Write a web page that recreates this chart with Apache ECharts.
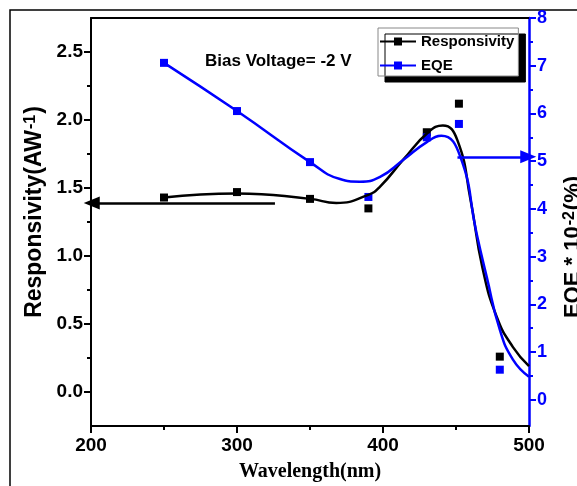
<!DOCTYPE html>
<html>
<head>
<meta charset="utf-8">
<script src="https://cdn.jsdelivr.net/npm/echarts@6/dist/echarts.min.js"></script>
<style>
html, body { margin: 0; padding: 0; background: #fff; }
#chart { width: 577px; height: 486px; }
</style>
</head>
<body>
<div id="chart"></div>
<script>
// measured points
var wavelengths = [250, 300, 350, 390, 430, 452, 480];
var responsivity = [1.43, 1.47, 1.42, 1.35, 1.91, 2.12, 0.26];
var eqe = [7.06, 6.05, 4.98, 4.25, 5.5, 5.78, 0.63];

// fitted curves
var respCurveX = [250, 300, 350, 368, 390, 398, 414, 431, 441, 451, 460, 468, 478, 489, 500];
var respCurveY = [1.43, 1.46, 1.42, 1.39, 1.45, 1.51, 1.71, 1.91, 1.96, 1.85, 1.41, 0.92, 0.55, 0.33, 0.19];
var eqeCurveX = [250, 300, 350, 370, 384, 398, 414, 430, 440, 453, 464, 471, 480, 489, 500];
var eqeCurveY = [7.06, 6.05, 4.98, 4.63, 4.57, 4.67, 5.03, 5.40, 5.53, 5.09, 3.5, 2.58, 1.47, 0.84, 0.48];

// arrows
var respArrow = [[326, 1.39], [200.5, 1.39]];
var eqeArrow = [[451, 5.09], [499.5, 5.09]];

// ticks
var xMinor = [250, 350, 450];
var leftTicks = [0, 0.5, 1, 1.5, 2, 2.5];
var leftMinor = [0.25, 0.75, 1.25, 1.75, 2.25];
var rightTicks = [0, 1, 2, 3, 4, 5, 6, 7, 8];
var rightMinor = [0.5, 1.5, 2.5, 3.5, 4.5, 5.5, 6.5, 7.5];

var SANS = 'Liberation Sans';
var BLUE = '#0000ff';

function zip(xs, ys) {
	var out = [];
	for (var i = 0; i < xs.length; i++) out.push([xs[i], ys[i]]);
	return out;
}

function arrowLine(pts, color) {
	return {
		silent: true,
		symbol: ['none', 'triangle'],
		symbolSize: [13, 16],
		label: { show: false },
		lineStyle: { color: color, width: 2.5, type: 'solid' },
		data: [[{ coord: pts[0] }, { coord: pts[1] }]]
	};
}

var chart = echarts.init(document.getElementById('chart'));
var option = {
	animation: false,
	title: {
		text: 'Bias Voltage= -2 V',
		left: 205, top: 53, padding: 0,
		textStyle: { fontFamily: SANS, fontSize: 17, fontWeight: 'bold', color: '#000' }
	},
	legend: {
		data: ['Responsivity', 'EQE'],
		orient: 'vertical',
		left: 378, top: 28,
		padding: [6, 4, 3, 1],
		itemGap: 9,
		itemWidth: 36,
		itemHeight: 10,
		selectedMode: false,
		backgroundColor: '#fff',
		borderColor: '#888',
		borderWidth: 1,
		shadowColor: '#000',
		shadowOffsetX: 7,
		shadowOffsetY: 6,
		shadowBlur: 0,
		textStyle: { fontFamily: SANS, fontSize: 15, fontWeight: 'bold', color: '#000' }
	},
	graphic: [{
		type: 'rect', silent: true,
		shape: { x: 10, y: 10, width: 700, height: 600 },
		style: { fill: 'none', stroke: '#000', lineWidth: 1.5 }
	}],
	grid: { left: 91, right: 48, top: 18, bottom: 60, outerBoundsMode: 'none', containLabel: false },
	xAxis: [{
		type: 'value', min: 200, max: 500, interval: 100, position: 'bottom',
		axisLine: { onZero: false, lineStyle: { color: '#000', width: 2 } },
		axisTick: { length: 7, lineStyle: { color: '#000', width: 2 } },
		axisLabel: { fontFamily: SANS, fontSize: 19, fontWeight: 'bold', color: '#000', margin: 10 },
		splitLine: { show: false },
		name: 'Wavelength(nm)', nameLocation: 'middle', nameGap: 36,
		nameTextStyle: { fontFamily: 'Liberation Serif', fontSize: 20, fontWeight: 'bold', color: '#000' }
	}, {
		type: 'value', min: 200, max: 500, position: 'bottom', offset: 0,
		axisLine: { show: false, onZero: false },
		axisTick: { customValues: xMinor, length: 4, lineStyle: { color: '#000', width: 2 } },
		axisLabel: { show: false },
		splitLine: { show: false }
	}, {
		type: 'value', min: 200, max: 500, position: 'top',
		axisLine: { onZero: false, lineStyle: { color: '#000', width: 2 } },
		axisTick: { show: false },
		axisLabel: { show: false },
		splitLine: { show: false }
	}],
	yAxis: [{
		type: 'value', min: -0.25, max: 2.75, position: 'left',
		axisLine: { onZero: false, lineStyle: { color: '#000', width: 2 } },
		axisTick: { customValues: leftTicks, length: 7, lineStyle: { color: '#000', width: 2 } },
		axisLabel: {
			customValues: leftTicks, margin: 8,
			fontFamily: SANS, fontSize: 19, fontWeight: 'bold', color: '#000',
			formatter: function (v) { return v.toFixed(1); }
		},
		splitLine: { show: false },
		name: 'Responsivity(AW{sup|-1})', nameLocation: 'middle', nameGap: 41,
		nameTextStyle: {
			fontFamily: SANS, fontSize: 23, fontWeight: 'bold', color: '#000',
			padding: [0, 0, 0, 20],
			rich: { sup: { fontFamily: SANS, fontSize: 16, fontWeight: 'bold', color: '#000', verticalAlign: 'top', padding: [0, 1, 0, 1] } }
		}
	}, {
		type: 'value', min: -0.55, max: 8, position: 'right',
		axisLine: { onZero: false, lineStyle: { color: BLUE, width: 2.5 } },
		axisTick: { customValues: rightTicks, length: 7, lineStyle: { color: BLUE, width: 2 } },
		axisLabel: { customValues: rightTicks, margin: 8, fontFamily: SANS, fontSize: 18, fontWeight: 'bold', color: BLUE },
		splitLine: { show: false },
		name: 'EQE * 10{sup|-2}(%)', nameLocation: 'middle', nameGap: 33,
		nameTextStyle: {
			fontFamily: SANS, fontSize: 22, fontWeight: 'bold', color: '#000',
			padding: [0, 50, 0, 0],
			rich: { sup: { fontFamily: SANS, fontSize: 16, fontWeight: 'bold', color: '#000', verticalAlign: 'top', padding: [0, 1, 0, 1] } }
		}
	}, {
		type: 'value', min: -0.25, max: 2.75, position: 'left', offset: 0,
		axisLine: { show: false, onZero: false },
		axisTick: { customValues: leftMinor, length: 4, lineStyle: { color: '#000', width: 2 } },
		axisLabel: { show: false },
		splitLine: { show: false }
	}, {
		type: 'value', min: -0.55, max: 8, position: 'right', offset: 0,
		axisLine: { show: false, onZero: false },
		axisTick: { customValues: rightMinor, length: 4, lineStyle: { color: BLUE, width: 2 } },
		axisLabel: { show: false },
		splitLine: { show: false }
	}],
	series: [{
		name: 'Responsivity', type: 'line', yAxisIndex: 0,
		data: zip(respCurveX, respCurveY),
		smooth: true, showSymbol: false, symbol: 'rect', symbolSize: 8,
		lineStyle: { color: '#000', width: 2.5 },
		itemStyle: { color: '#000' },
		markLine: arrowLine(respArrow, '#000')
	}, {
		name: 'EQE', type: 'line', yAxisIndex: 1,
		data: zip(eqeCurveX, eqeCurveY),
		smooth: true, showSymbol: false, symbol: 'rect', symbolSize: 8,
		lineStyle: { color: BLUE, width: 2.5 },
		itemStyle: { color: BLUE },
		markLine: arrowLine(eqeArrow, BLUE)
	}, {
		name: 'resp_pts', type: 'scatter', yAxisIndex: 0,
		data: zip(wavelengths, responsivity),
		symbol: 'rect', symbolSize: 8,
		itemStyle: { color: '#000', opacity: 1 }
	}, {
		name: 'eqe_pts', type: 'scatter', yAxisIndex: 1,
		data: zip(wavelengths, eqe),
		symbol: 'rect', symbolSize: 8,
		itemStyle: { color: BLUE, opacity: 1 }
	}]
};
chart.setOption(option);
</script>
</body>
</html>
